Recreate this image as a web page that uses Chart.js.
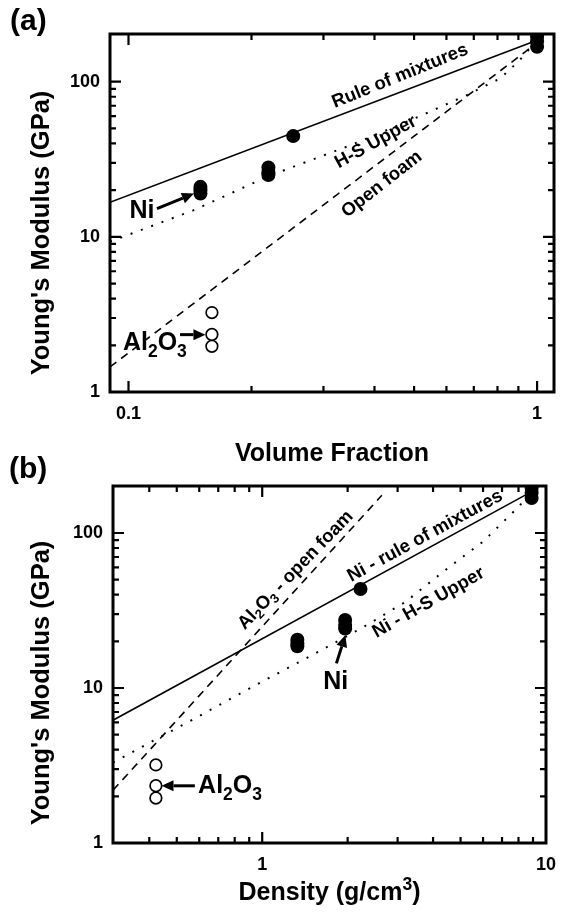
<!DOCTYPE html>
<html lang="en">
<head>
<meta charset="UTF-8">
<title>Young's Modulus</title>
<script src="https://cdn.jsdelivr.net/npm/chart.js"></script>
<style>
  body { margin: 0; background: #fff; }
  #wrap { position: relative; width: 567px; height: 915px; }
  canvas { position: absolute; left: 0; }
  #chartA { top: 0; }
  #chartB { top: 440px; }
</style>
</head>
<body>
<div id="wrap">
  <canvas id="chartA" width="567" height="470"></canvas>
  <canvas id="chartB" width="567" height="475"></canvas>
</div>
<script>
// ---------- panel (a): modulus vs volume fraction ----------
const niFrac = [0.15, 0.15, 0.15, 0.22, 0.22, 0.22, 0.253, 1.0, 1.0, 1.0];
const niModA = [21, 20, 19, 28, 26, 25, 44.6, 195, 182, 168];
const alFrac = [0.16, 0.16, 0.16];
const alModA = [3.25, 2.35, 1.97];
const romFrac = [0.0901, 1.0];
const romModA = [16.7, 185];
const hsFrac = [0.0901, 0.144, 0.22, 0.35, 0.517, 0.673, 0.812, 0.9, 1.0];
const hsModA = [9.3, 14.8, 24.6, 39, 60, 82, 105, 135, 185];
const foamFrac = [0.0901, 1.0];
const foamModA = [1.45, 178];

// ---------- panel (b): modulus vs density ----------
const niDens = [1.33, 1.33, 1.33, 1.96, 1.96, 1.96, 2.22, 8.9, 8.9, 8.9];
const niModB = [20.5, 19.5, 18.6, 27.5, 25.5, 24.2, 43.5, 195, 182, 168];
const alDens = [0.422, 0.422, 0.422];
const alModB = [3.19, 2.34, 1.95];
const romDens = [0.298, 8.9];
const romModB = [6.2, 185];
const hsDens = [0.298, 0.6, 1.0, 1.5, 2.28, 3.2, 4.41, 6.0, 7.99, 8.9];
const hsModB = [3.3, 6.6, 11, 16.3, 24.8, 36, 57.5, 88, 147, 185];
const foamDens = [0.298, 2.64];
const foamModB = [2.19, 175];

const FONT = '"Liberation Sans", Arial, sans-serif';

function pts(xs, ys) {
  return xs.map((x, i) => ({ x: x, y: ys[i] }));
}

function lineSet(xs, ys, dash, width) {
  return {
    data: pts(xs, ys), showLine: true, pointRadius: 0, borderColor: '#000',
    borderWidth: width, borderDash: dash, tension: 0, order: 1
  };
}

function dotSet(xs, ys, open) {
  return {
    data: pts(xs, ys), showLine: false, pointStyle: 'circle',
    pointRadius: open ? 5.8 : 7,
    backgroundColor: open ? '#fff' : '#000',
    borderColor: '#000', borderWidth: open ? 1.7 : 0, order: 0
  };
}

// rich text: parts = [[text, mode]], mode 0 normal, 1 subscript, 2 superscript
function richWidth(ctx, parts, size) {
  let w = 0;
  parts.forEach(p => {
    const s = p[1] ? size * 0.7 : size;
    ctx.font = 'bold ' + s + 'px ' + FONT;
    w += ctx.measureText(p[0]).width;
  });
  return w;
}

function drawRich(ctx, parts, x, y, size, align) {
  const w = richWidth(ctx, parts, size);
  let cx = align === 'center' ? x - w / 2 : x;
  ctx.textAlign = 'left';
  parts.forEach(p => {
    const s = p[1] ? size * 0.7 : size;
    ctx.font = 'bold ' + s + 'px ' + FONT;
    let dy = 0;
    if (p[1] === 1) dy = size * 0.28;
    if (p[1] === 2) dy = -size * 0.4;
    ctx.fillText(p[0], cx, y + dy);
    cx += ctx.measureText(p[0]).width;
  });
}

function arrow(ctx, x1, y1, x2, y2) {
  const a = Math.atan2(y2 - y1, x2 - x1), hl = 12, hw = 5.5;
  const bx = x2 - hl * Math.cos(a), by = y2 - hl * Math.sin(a);
  ctx.lineWidth = 3;
  ctx.beginPath();
  ctx.moveTo(x1, y1);
  ctx.lineTo(bx, by);
  ctx.stroke();
  ctx.beginPath();
  ctx.moveTo(x2, y2);
  ctx.lineTo(bx + hw * Math.sin(a), by - hw * Math.cos(a));
  ctx.lineTo(bx - hw * Math.sin(a), by + hw * Math.cos(a));
  ctx.closePath();
  ctx.fill();
}

// texts and arrows for each panel, placed in data coordinates
const decor = {
  chartA: {
    letter: ['(a)', 10, 30],
    xTitle: [['Volume Fraction', 0]], xTitleY: 461,
    yTitle: [["Young's Modulus (GPa)", 0]], yTitleX: 49, yTitleY: 233,
    labels: [
      { parts: [['Rule of mixtures', 0]], x: 0.462, y: 108.7, rot: -22, size: 18.5 },
      { parts: [['H-S Upper', 0]], x: 0.403, y: 40.8, rot: -29, size: 18.5 },
      { parts: [['Open foam', 0]], x: 0.417, y: 21.8, rot: -38, size: 18.5 },
      { parts: [['Ni', 0]], x: 0.1079, y: 14.6, rot: 0, size: 25 },
      { parts: [['Al', 0], ['2', 1], ['O', 0], ['3', 1]], x: 0.0969, y: 1.875, size: 25, left: true }
    ],
    arrows: [[0.1174, 15.2, 0.1446, 19.0], [0.1337, 2.343, 0.1543, 2.343]]
  },
  chartB: {
    letter: ['(b)', 9, 38],
    xTitle: [['Density (g/cm', 0], ['3', 2], [')', 0]], xTitleY: 460,
    yTitle: [["Young's Modulus (GPa)", 0]], yTitleX: 49, yTitleY: 243,
    labels: [
      { parts: [['Al', 0], ['2', 1], ['O', 0], ['3', 1], [' - open foam', 0]], x: 1.312, y: 57.5, rot: -46, size: 18.5 },
      { parts: [['Ni - rule of mixtures', 0]], x: 3.75, y: 95.5, rot: -28.5, size: 18.5 },
      { parts: [['Ni - H-S Upper', 0]], x: 3.86, y: 35.5, rot: -29.5, size: 18.5 },
      { parts: [['Ni', 0]], x: 1.815, y: 10.93, rot: 0, size: 25 },
      { parts: [['Al', 0], ['2', 1], ['O', 0], ['3', 1]], x: 0.5945, y: 2.099, size: 25, left: true }
    ],
    arrows: [[1.826, 14.42, 1.964, 22.0], [0.579, 2.339, 0.4418, 2.339]]
  }
};

function logTicks(ctx, scale, horiz, area) {
  const lo = scale.min, hi = scale.max;
  for (let d = Math.floor(Math.log10(lo)); d <= Math.ceil(Math.log10(hi)); d++) {
    for (let k = 1; k <= 9; k++) {
      const v = k * Math.pow(10, d);
      if (v <= lo || v >= hi) continue;
      const p = scale.getPixelForValue(v);
      const len = k === 1 ? 11 : 6;
      ctx.beginPath();
      if (horiz) {
        if (p - area.left < 3 || area.right - p < 3) continue;
        ctx.moveTo(p, area.bottom); ctx.lineTo(p, area.bottom - len);
        ctx.moveTo(p, area.top); ctx.lineTo(p, area.top + len);
      } else {
        if (p - area.top < 3 || area.bottom - p < 3) continue;
        ctx.moveTo(area.left, p); ctx.lineTo(area.left + len, p);
        ctx.moveTo(area.right, p); ctx.lineTo(area.right - len, p);
      }
      ctx.stroke();
    }
  }
}

const panelDecor = {
  id: 'panelDecor',
  afterDraw(chart) {
    const ctx = chart.ctx, a = chart.chartArea;
    const xs = chart.scales.x, ys = chart.scales.y;
    const d = decor[chart.canvas.id];
    ctx.save();
    ctx.strokeStyle = '#000';
    ctx.fillStyle = '#000';
    ctx.lineCap = 'butt';
    // frame and ticks
    ctx.lineWidth = 2.2;
    logTicks(ctx, xs, true, a);
    logTicks(ctx, ys, false, a);
    ctx.lineWidth = 3;
    ctx.strokeRect(a.left, a.top, a.right - a.left, a.bottom - a.top);

    ctx.textBaseline = 'alphabetic';
    // panel letter
    ctx.font = 'bold 30px ' + FONT;
    ctx.textAlign = 'left';
    ctx.fillText(d.letter[0], d.letter[1], d.letter[2]);
    // axis titles
    drawRich(ctx, d.xTitle, (a.left + a.right) / 2, d.xTitleY, 25, 'center');
    ctx.save();
    ctx.translate(d.yTitleX, d.yTitleY);
    ctx.rotate(-Math.PI / 2);
    drawRich(ctx, d.yTitle, 0, 0, 25.5, 'center');
    ctx.restore();

    // annotations
    d.labels.forEach(l => {
      const px = xs.getPixelForValue(l.x), py = ys.getPixelForValue(l.y);
      if (l.left) {
        ctx.textBaseline = 'alphabetic';
        drawRich(ctx, l.parts, px, py, l.size, 'left');
        return;
      }
      ctx.save();
      ctx.translate(px, py);
      ctx.rotate((l.rot || 0) * Math.PI / 180);
      ctx.textBaseline = 'middle';
      drawRich(ctx, l.parts, 0, 0, l.size, 'center');
      ctx.restore();
    });
    d.arrows.forEach(r => {
      arrow(ctx, xs.getPixelForValue(r[0]), ys.getPixelForValue(r[1]),
        xs.getPixelForValue(r[2]), ys.getPixelForValue(r[3]));
    });
    ctx.restore();
  }
};

function makeChart(id, datasets, xr, xMajor, pad, yWidth, xHeight) {
  const tickFont = { family: FONT, size: 18, weight: 'bold' };
  return new Chart(document.getElementById(id), {
    type: 'scatter',
    data: { datasets: datasets },
    options: {
      responsive: false,
      animation: false,
      events: [],
      layout: { padding: pad },
      plugins: { legend: { display: false }, tooltip: { enabled: false } },
      scales: {
        x: {
          type: 'logarithmic', min: xr[0], max: xr[1],
          grid: { display: false, drawTicks: false }, border: { display: false },
          ticks: { color: '#000', font: tickFont, padding: 11, maxRotation: 0, autoSkip: false,
            callback: v => String(v) },
          afterBuildTicks: s => { s.ticks = xMajor.map(v => ({ value: v })); },
          afterFit: s => { s.height = xHeight; }
        },
        y: {
          type: 'logarithmic', min: 1, max: xr[2],
          grid: { display: false, drawTicks: false }, border: { display: false },
          ticks: { color: '#000', font: tickFont, padding: 10, autoSkip: false,
            callback: v => String(v) },
          afterBuildTicks: s => { s.ticks = [1, 10, 100].map(v => ({ value: v })); },
          afterFit: s => { s.width = yWidth; }
        }
      }
    },
    plugins: [panelDecor]
  });
}

makeChart('chartA', [
  dotSet(niFrac, niModA, false),
  dotSet(alFrac, alModA, true),
  lineSet(romFrac, romModA, [], 1.6),
  lineSet(hsFrac, hsModA, [2, 9], 2),
  lineSet(foamFrac, foamModA, [8, 6], 1.6)
], [0.0901, 1.10, 203], [0.1, 1], { top: 34, right: 13, left: 0, bottom: 0 }, 110, 78);

makeChart('chartB', [
  dotSet(niDens, niModB, false),
  dotSet(alDens, alModB, true),
  lineSet(romDens, romModB, [], 1.6),
  lineSet(hsDens, hsModB, [2, 9], 2),
  lineSet(foamDens, foamModB, [8, 6], 1.6)
], [0.298, 10, 201], [1, 10], { top: 46, right: 10, left: 0, bottom: 0 }, 113, 72);
</script>
</body>
</html>
